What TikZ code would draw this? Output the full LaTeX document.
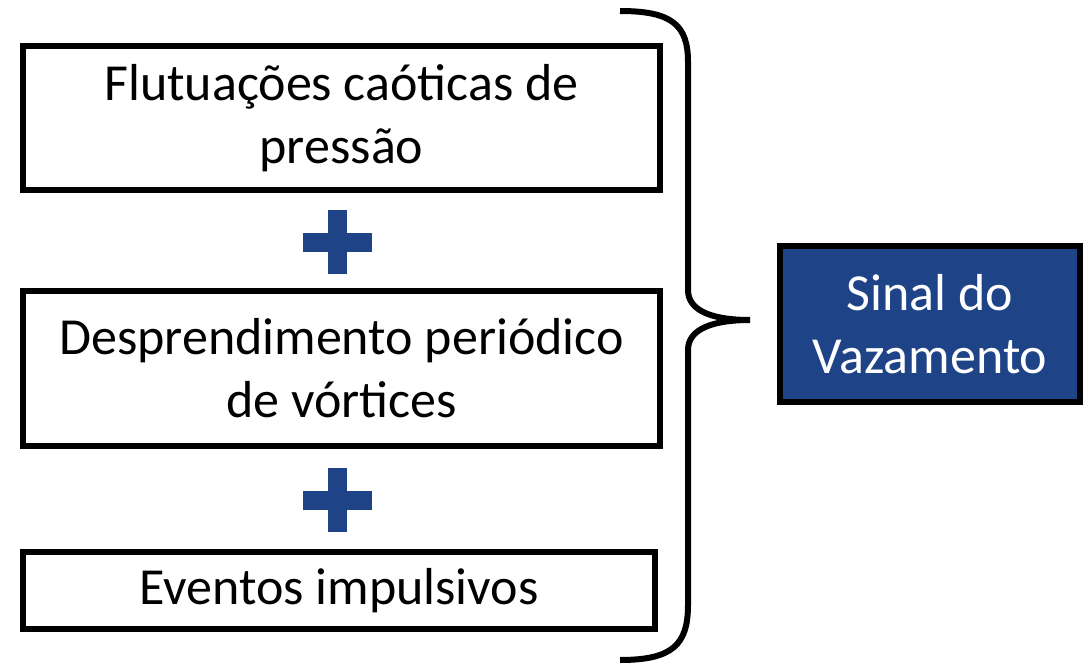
\documentclass[tikz,border=0pt]{standalone}
\usepackage{fontspec}
\setmainfont{Carlito}
\usetikzlibrary{calc,positioning}
\definecolor{sinalblue}{HTML}{1F4387}
\tikzset{
	causebox/.style={draw=black, line width=6pt, fill=white, align=center, inner sep=0pt,
		font=\fontsize{52}{63}\selectfont},
	sinalbox/.style={causebox, fill=sinalblue, text=white},
}
\def\plussign(#1){\fill[sinalblue] ($(#1)+(-34.5,-9.5)$) rectangle ($(#1)+(34.5,9.5)$);
	\fill[sinalblue] ($(#1)+(-9.5,-32)$) rectangle ($(#1)+(9.5,32)$);}

\begin{document}
\begin{tikzpicture}[x=1pt, y=-1pt]
			%%%%% START %%%%%
			\useasboundingbox (0, 0) rectangle (1092, 666);
			
			\node[causebox, minimum width=637pt, minimum height=144pt] (flutuacoes) at (341.5, 118) {Flutuações caóticas de\\pressão};
			\node[causebox, minimum width=637pt, minimum height=155pt] (vortices) at (341.5, 368.5) {Desprendimento periódico\\de vórtices};
			\node[causebox, minimum width=632pt, minimum height=77pt] (eventos) at (339, 590.5) {Eventos impulsivos};
			
			\plussign(337.5, 242)
			\plussign(337.5, 500)
			
			\coordinate (chave) at (750, 320);
			\draw[line width=6pt] (620, 11) .. controls (672, 11) and (688, 25) .. (688, 62)
				-- (688, 290) .. controls (688, 312) and (715, 320) .. (chave)
				.. controls (715, 320) and (688, 328) .. (688, 350)
				-- (688, 605) .. controls (688, 645) and (672, 660) .. (620, 660);
			
			\node[sinalbox, minimum width=300pt, minimum height=156pt] (sinal) at (930, 324) {Sinal do\\Vazamento};
			%%%%% END %%%%%
		\end{tikzpicture}
\end{document}
